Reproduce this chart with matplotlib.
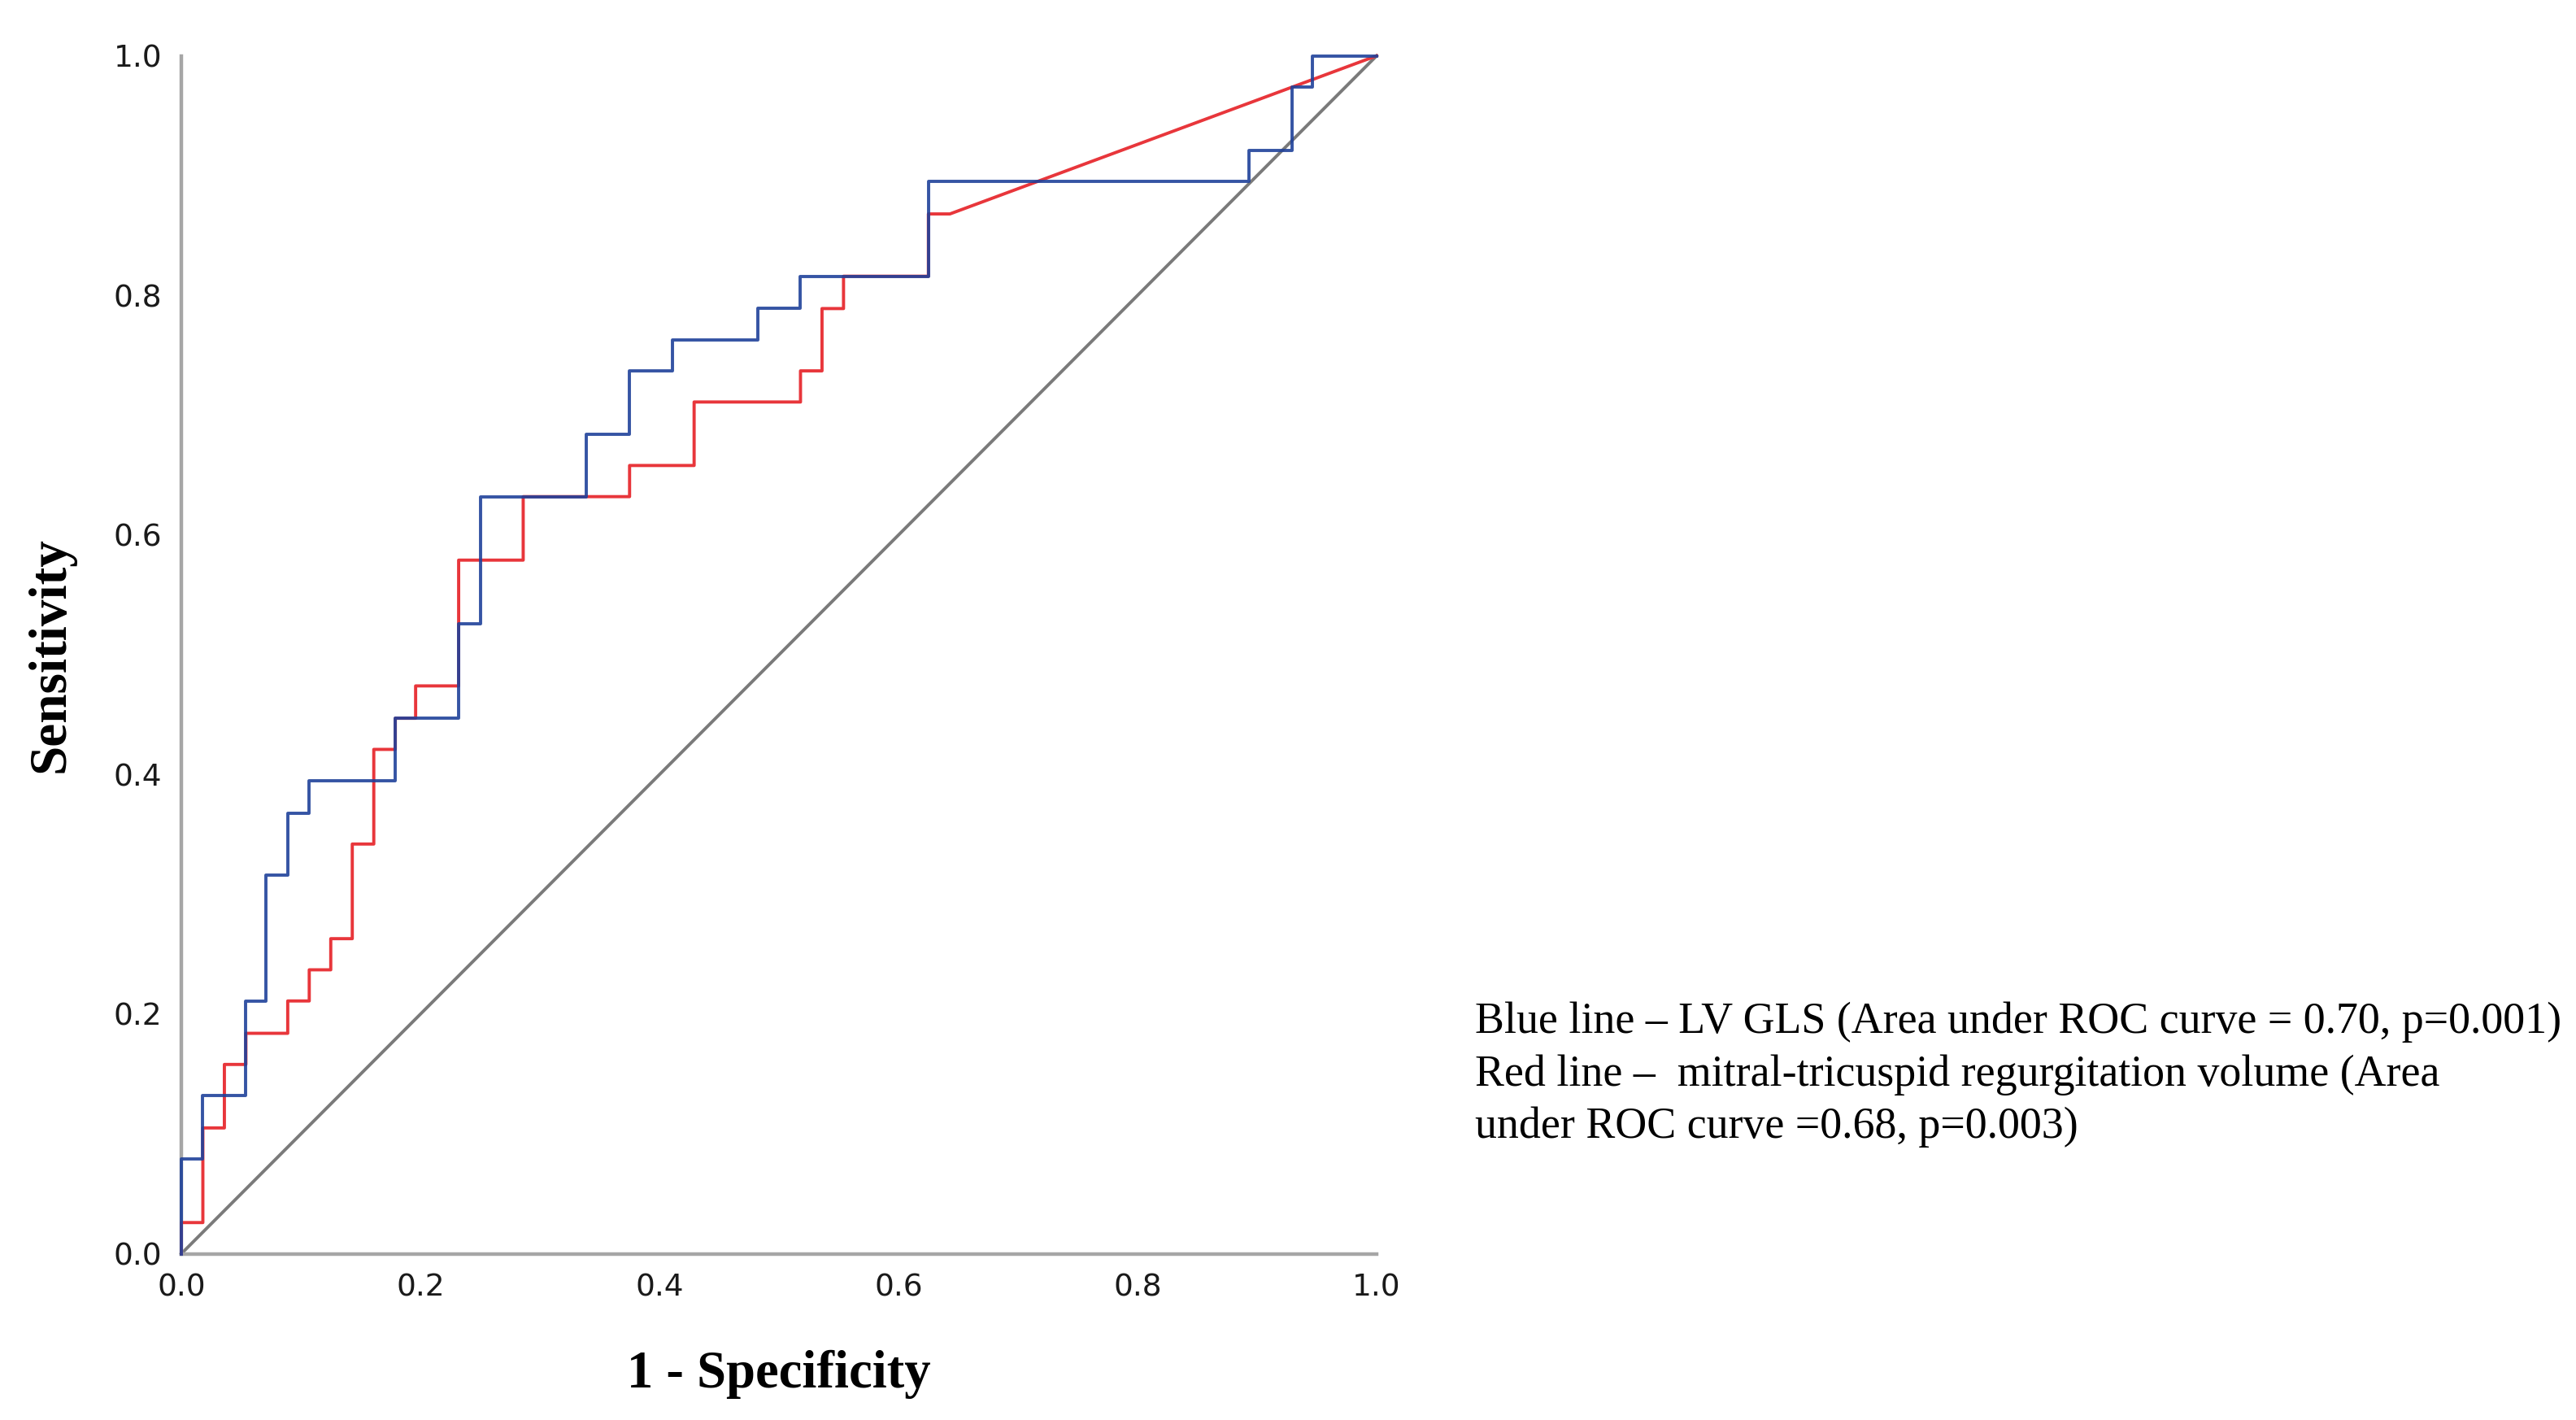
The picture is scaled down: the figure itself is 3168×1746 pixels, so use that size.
import matplotlib
matplotlib.use("Agg")
import matplotlib.pyplot as plt

# ROC points (1 - specificity, sensitivity)
blue_fpr = [0.0, 0.0, 0.018, 0.018, 0.054, 0.054, 0.071, 0.071, 0.089, 0.089,
            0.107, 0.107, 0.179, 0.179, 0.232, 0.232, 0.250, 0.250, 0.339, 0.339,
            0.375, 0.375, 0.411, 0.411, 0.482, 0.482, 0.518, 0.518, 0.625, 0.625,
            0.893, 0.893, 0.929, 0.929, 0.946, 0.946, 1.0]
blue_tpr = [0.0, 0.079, 0.079, 0.132, 0.132, 0.211, 0.211, 0.316, 0.316, 0.368,
            0.368, 0.395, 0.395, 0.447, 0.447, 0.526, 0.526, 0.632, 0.632, 0.684,
            0.684, 0.737, 0.737, 0.763, 0.763, 0.789, 0.789, 0.816, 0.816, 0.895,
            0.895, 0.921, 0.921, 0.974, 0.974, 1.0, 1.0]

red_fpr = [0.0, 0.0, 0.018, 0.018, 0.036, 0.036, 0.054, 0.054, 0.089, 0.089,
           0.107, 0.107, 0.125, 0.125, 0.143, 0.143, 0.161, 0.161, 0.179, 0.179,
           0.196, 0.196, 0.232, 0.232, 0.286, 0.286, 0.375, 0.375, 0.429, 0.429,
           0.518, 0.518, 0.536, 0.536, 0.554, 0.554, 0.625, 0.625, 0.643, 1.0]
red_tpr = [0.0, 0.026, 0.026, 0.105, 0.105, 0.158, 0.158, 0.184, 0.184, 0.211,
           0.211, 0.237, 0.237, 0.263, 0.263, 0.342, 0.342, 0.421, 0.421, 0.447,
           0.447, 0.474, 0.474, 0.579, 0.579, 0.632, 0.632, 0.658, 0.658, 0.711,
           0.711, 0.737, 0.737, 0.789, 0.789, 0.816, 0.816, 0.868, 0.868, 1.0]

ref_line = [0.0, 1.0]
ticks = [0.0, 0.2, 0.4, 0.6, 0.8, 1.0]
tick_labels = ["0.0", "0.2", "0.4", "0.6", "0.8", "1.0"]

note = ("Blue line \u2013 LV GLS (Area under ROC curve = 0.70, p=0.001)\n"
        "Red line \u2013  mitral-tricuspid regurgitation volume (Area\n"
        "under ROC curve =0.68, p=0.003)")

fig = plt.figure(figsize=(31.68, 17.46), dpi=100)
ax = fig.add_axes([0.0704, 0.1171, 0.4640, 0.8436])

ax.plot(ref_line, ref_line, color="#7a7a7a", linewidth=2.8, zorder=2, clip_on=False)
ax.plot(red_fpr, red_tpr, color="#e8363b", linewidth=2.8, zorder=3, clip_on=False)
ax.plot(blue_fpr, blue_tpr, color="#1f419a", linewidth=2.8, alpha=0.9, zorder=4, clip_on=False)

ax.set_xlim(0, 1)
ax.set_ylim(0, 1)
ax.set_xticks(ticks)
ax.set_xticklabels(tick_labels)
ax.set_yticks(ticks)
ax.set_yticklabels(tick_labels)
ax.tick_params(length=0, labelsize=27, pad=17, colors="#1a1a1a")

for side in ["top", "right"]:
    ax.spines[side].set_visible(False)
for side in ["left", "bottom"]:
    ax.spines[side].set_color("#a6a6a6")
    ax.spines[side].set_linewidth(3.2)

ax.set_xlabel("1 - Specificity", family="Liberation Serif", fontweight="bold",
              fontsize=46.5, labelpad=42)
ax.set_ylabel("Sensitivity", family="Liberation Serif", fontweight="bold",
              fontsize=47, labelpad=34)

fig.text(0.5726, 0.2945, note, family="Liberation Serif", fontsize=38.8,
         va="top", ha="left", linespacing=1.36)

fig.savefig("out.png", dpi=100, facecolor="white")
